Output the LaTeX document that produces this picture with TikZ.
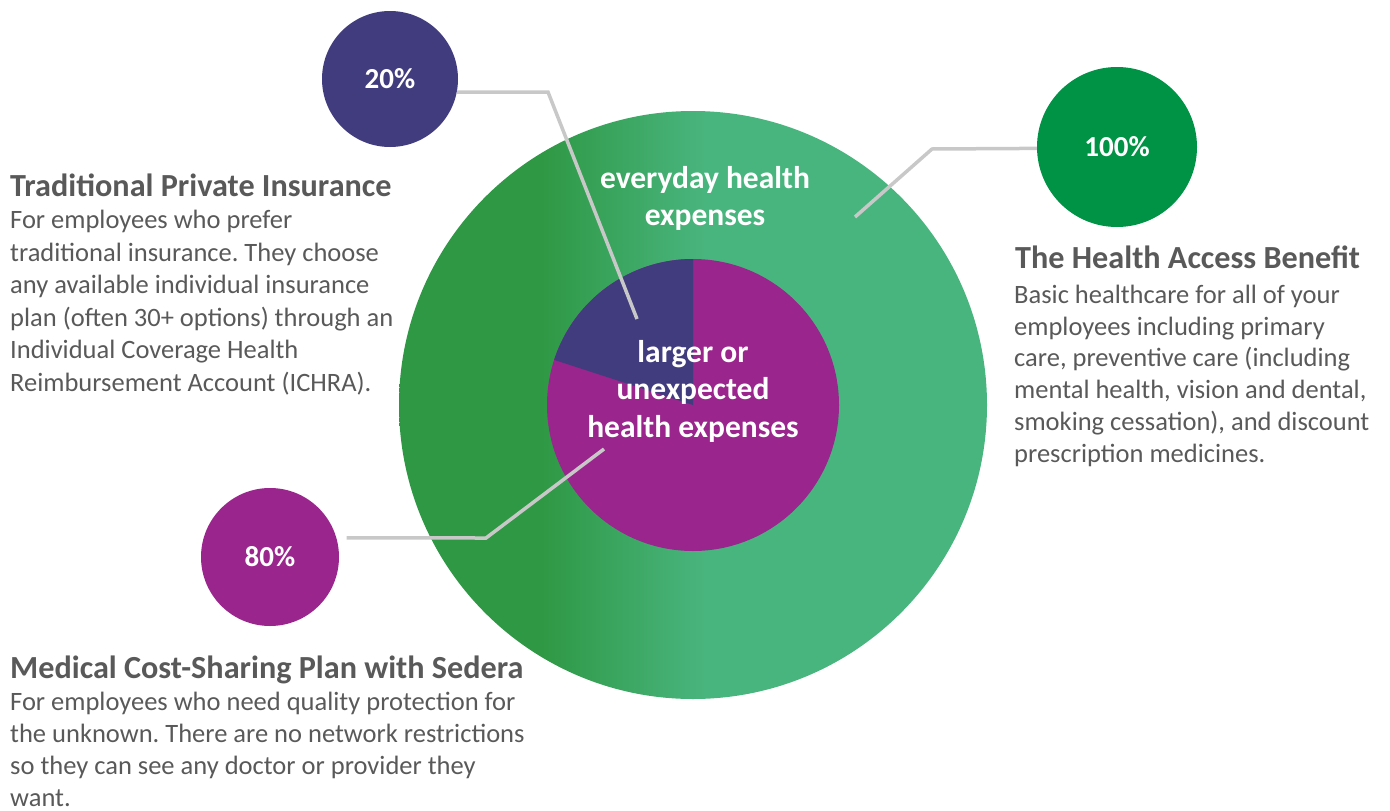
\documentclass[tikz,border=0pt]{standalone}
\usepackage{fontspec}
\setmainfont{Carlito}
\usepackage{tikz}
\definecolor{ringdark}{RGB}{46,152,68}
\definecolor{ringlight}{RGB}{73,181,126}
\definecolor{navy}{RGB}{64,60,126}
\definecolor{plum}{RGB}{154,37,140}
\definecolor{benefit}{RGB}{0,146,69}
\definecolor{leadgray}{RGB}{200,200,200}
\definecolor{textgray}{RGB}{89,89,89}
\pgfdeclarehorizontalshading{ringshade}{100bp}{color(0bp)=(ringdark); color(37bp)=(ringdark); color(51bp)=(ringlight); color(100bp)=(ringlight)}
\frenchspacing

\begin{document}
\begin{tikzpicture}[x=1pt, y=1pt,
    pct/.style={circle, inner sep=0pt, text=white, font=\bfseries\fontsize{29}{34}\selectfont},
    leader/.style={draw=leadgray, line width=3.5pt},
    blurbhead/.style={anchor=base west, inner sep=0pt, text=textgray, font=\bfseries\fontsize{32.2}{38}\selectfont},
    blurb/.style={anchor=base west, inner sep=0pt, align=left, text=textgray, font=\fontsize{26.5}{32.5}\selectfont},
    inlabel/.style={align=center, inner sep=0pt, text=white, font=\bfseries\fontsize{31.5}{37.5}\selectfont}]
            \useasboundingbox (0,0) rectangle (1390,-811);
            \coordinate (O) at (693,-405);
            % outer ring and inner pie
            \shade[shading=ringshade] (O) circle (294);
            \fill[plum] (O) circle (146);
            \fill[navy] (O) -- ++(90:146) arc (90:162:146) -- cycle;
            \node[inlabel] (everyday) at (705,-198.5) {everyday health\\expenses};
            \node[inlabel] (larger) at (693,-391) {larger or\\unexpected\\health expenses};
            % percentage bubbles
            \node[pct, fill=navy, minimum size=136pt] (p20) at (390,-79) {\raisebox{-2pt}{20\%}};
            \node[pct, fill=benefit, minimum size=160pt] (p100) at (1117,-147) {\raisebox{-1pt}{100\%}};
            \node[pct, fill=plum, minimum size=138pt] (p80) at (270,-557) {80\%};
            % leader lines
            \coordinate (k20) at (548,-92);
            \coordinate (e20) at (637,-319);
            \coordinate (k100) at (932,-149);
            \coordinate (e100) at (855,-217);
            \coordinate (k80) at (486,-538);
            \coordinate (e80) at (604,-449);
            \draw[leader] (p20.-11) -- (k20) -- (e20);
            \draw[leader] (p100.181) -- (k100) -- (e100);
            \draw[leader] ([xshift=10pt]p80.16) -- (k80) -- (e80);
            % text blocks (blurb nodes sit on their last baseline)
            \node[blurbhead] (tpi) at (10,-196) {Traditional Private Insurance};
            \node[blurb] (tpitext) at (10,-391) {For employees who prefer\\traditional insurance. They choose\\any available individual insurance\\plan (often 30+ options) through an\\Individual Coverage Health\\Reimbursement Account (ICHRA).};
            \node[blurbhead] (hab) at (1015,-268) {The Health Access Benefit};
            \node[blurb, font=\fontsize{26.5}{31.7}\selectfont] (habtext) at (1014,-462) {Basic healthcare for all of your\\employees including primary\\care, preventive care (including\\mental health, vision and dental,\\smoking cessation), and discount\\prescription medicines.};
            \node[blurbhead] (mcs) at (10,-678) {Medical Cost-Sharing Plan with Sedera};
            \node[blurb, font=\fontsize{26.5}{31.8}\selectfont] (mcstext) at (10,-806) {For employees who need quality protection for\\the unknown. There are no network restrictions\\so they can see any doctor or provider they\\want.};
        \end{tikzpicture}
\end{document}
